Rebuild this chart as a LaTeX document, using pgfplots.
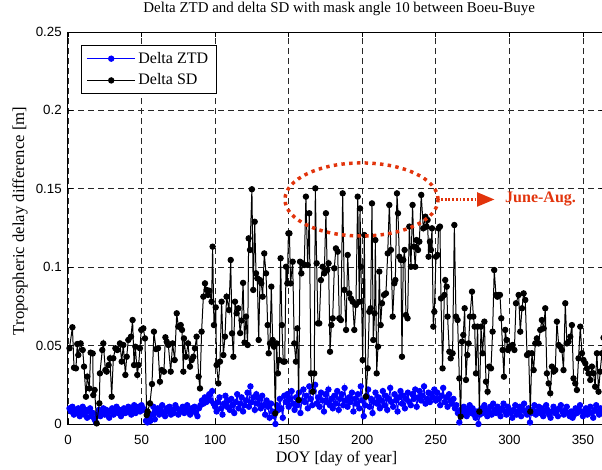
\documentclass[border=0pt]{standalone}
\usepackage{pgfplots}
\pgfplotsset{compat=1.18}
\usepackage{pgfplotstable}
\usepackage{fontspec}
\setmainfont{Liberation Serif}
\setsansfont{Liberation Sans}
\usetikzlibrary{arrows.meta}
\definecolor{annot}{RGB}{226,52,12}
\definecolor{ztdblue}{RGB}{0,0,255}

% Daily delta ZTD (one value per DOY, starting at day 1)
\pgfplotstableread{
dztd
0.010
0.008
0.011
0.006
0.009
0.007
0.010
0.005
0.008
0.011
0.006
0.009
0.004
0.008
0.010
0.005
0.007
0.003
0.001
0.006
0.009
0.005
0.008
0.010
0.006
0.009
0.007
0.004
0.008
0.010
0.006
0.008
0.011
0.007
0.009
0.005
0.008
0.010
0.007
0.009
0.011
0.008
0.006
0.010
0.012
0.007
0.009
0.011
0.008
0.012
0.010
0.009
0.002
0.001
0.004
0.002
0.006
0.011
0.003
0.008
0.010
0.006
0.009
0.012
0.007
0.005
0.010
0.008
0.011
0.006
0.009
0.007
0.012
0.010
0.006
0.009
0.008
0.011
0.007
0.010
0.012
0.008
0.006
0.010
0.009
0.011
0.007
0.005
0.010
0.012
0.015
0.013
0.017
0.014
0.016
0.019
0.015
0.021
0.013
0.011
0.008
0.014
0.017
0.010
0.006
0.013
0.018
0.011
0.015
0.009
0.016
0.012
0.007
0.014
0.019
0.010
0.013
0.017
0.008
0.012
0.015
0.020
0.011
0.024
0.014
0.017
0.009
0.019
0.013
0.016
0.010
0.018
0.012
0.006
0.015
0.011
0.004
0.013
0.008
0.005
0.000
0.012
0.009
0.016
0.010
0.004
0.018
0.014
0.019
0.011
0.016
0.021
0.013
0.009
0.017
0.012
0.020
0.007
0.015
0.022
0.014
0.018
0.010
0.024
0.016
0.012
0.021
0.025
0.013
0.017
0.011
0.020
0.015
0.008
0.019
0.014
0.022
0.012
0.016
0.010
0.018
0.013
0.021
0.009
0.016
0.019
0.012
0.023
0.015
0.011
0.017
0.014
0.020
0.008
0.016
0.013
0.019
0.010
0.024
0.015
0.005
0.012
0.018
0.022
0.011
0.016
0.007
0.014
0.020
0.013
0.017
0.010
0.015
0.021
0.012
0.018
0.009
0.016
0.023
0.014
0.011
0.019
0.015
0.008
0.017
0.021
0.013
0.018
0.010
0.016
0.020
0.014
0.012
0.019
0.016
0.022
0.011
0.017
0.021
0.015
0.018
0.024
0.013
0.016
0.020
0.014
0.019
0.017
0.022
0.015
0.020
0.016
0.012
0.018
0.023
0.014
0.017
0.011
0.019
0.015
0.013
0.016
0.010
0.012
0.007
0.001
0.009
0.006
0.011
0.008
0.005
0.009
0.012
0.007
0.010
0.006
0.004
0.008
0.000
0.006
0.010
0.007
0.012
0.009
0.005
0.008
0.011
0.006
0.013
0.009
0.007
0.011
0.008
0.005
0.010
0.013
0.008
0.006
0.011
0.009
0.007
0.004
0.009
0.012
0.006
0.008
0.011
0.005
0.009
0.013
0.008
0.006
0.010
0.001
0.007
0.009
0.012
0.006
0.008
0.011
0.007
0.010
0.005
0.008
0.012
0.009
0.006
0.004
0.008
0.011
0.007
0.009
0.005
0.010
0.012
0.008
0.006
0.009
0.011
0.007
0.005
0.008
0.004
0.006
0.010
0.007
0.009
0.012
0.008
0.005
0.007
0.010
0.006
0.008
0.011
0.007
0.004
0.009
0.012
0.008
0.006
0.010
0.007
0.009
0.005
}\ztdtable

% Delta SD against DOY
\pgfplotstableread{
doy dsd
1 0.0483
3 0.0617
4.1 0.0359
5.4 0.0355
6.3 0.0510
7 0.0440
8.6 0.0514
10 0.0472
10.9 0.0366
12.2 0.0174
13.1 0.0302
14.5 0.0227
15.4 0.0455
16.8 0.0450
17.2 0.0185
18.1 0.0217
19.5 0.0004
21.3 0.0132
21.7 0.0323
23.3 0.0472
24 0.0514
25.4 0.0344
26.3 0.0334
27.6 0.0376
28.5 0.0419
29.7 0.0174
30.8 0.0419
32.2 0.0483
33.5 0.0472
35.3 0.0514
36.5 0.0398
37.6 0.0504
39 0.0313
39.9 0.0429
41 0.0536
42.8 0.0557
43.9 0.0663
44.9 0.0376
45.8 0.0493
47.1 0.0313
48 0.0376
48.9 0.0483
49.8 0.0600
51.2 0.0610
52.3 0.0546
53.5 0.0057
54.1 0.0079
55.7 0.0132
57.1 0.0255
58.4 0.0589
59.8 0.0478
61.2 0.0483
62.5 0.0270
63.7 0.0344
65.2 0.0334
66.2 0.0553
67.1 0.0525
68.2 0.0504
69.8 0.0334
71.1 0.0514
72.5 0.0408
73.9 0.0706
75 0.0621
76.6 0.0631
77.5 0.0600
78.4 0.0334
78.8 0.0546
80.2 0.0429
81.6 0.0514
82.9 0.0366
84.1 0.0408
85.2 0.0429
86.3 0.0483
87.4 0.0557
88.8 0.0302
89.7 0.0227
90.8 0.0589
92 0.0812
93.1 0.0897
94.2 0.0855
95.1 0.0823
96 0.0850
97.6 0.0780
98.3 0.1131
99.2 0.0631
100.4 0.0744
101 0.0376
102.2 0.0259
103.3 0.0398
104.4 0.0780
105.6 0.0440
106.7 0.0557
107.8 0.0812
109.4 0.0727
110.6 0.1046
111.5 0.0578
112.4 0.0429
113.5 0.0780
114.6 0.0706
115.8 0.0738
117 0.0580
118 0.0660
119 0.0900
120 0.0520
121 0.0685
122.1 0.0504
122.8 0.1184
123.7 0.1110
125 0.1497
125.9 0.0855
126.9 0.1290
127.8 0.0961
128.7 0.0929
129.6 0.0536
130.5 0.0918
131.4 0.0897
132.3 0.0812
133.4 0.1088
134.6 0.0961
135.7 0.0631
136.4 0.0451
137.3 0.0514
138.2 0.0876
139.1 0.0536
140.0 0.0493
140.9 0.0068
141.8 0.0514
142.7 0.0323
143.6 0.0408
144.5 0.1057
145.4 0.0631
146.3 0.0398
147.3 0.0398
148.2 0.1003
149.1 0.0897
149.8 0.1216
150.5 0.1216
151.3 0.0897
152.7 0.1035
153.8 0.0514
154.9 0.0398
155.9 0.0610
156.8 0.0153
157.7 0.1035
158.6 0.0961
159.5 0.1025
160.6 0.1014
161.7 0.1450
162.9 0.1014
164.0 0.1344
165.1 0.0323
166.3 0.0206
167.4 0.0323
168.1 0.1503
169.0 0.1025
169.9 0.0642
170.8 0.0642
171.9 0.0918
173.1 0.1003
174.2 0.0961
175.3 0.1344
176.2 0.0982
177.1 0.1025
178.1 0.0461
179.0 0.0631
179.9 0.0674
181.0 0.0993
182.1 0.1120
183.3 0.1099
184.4 0.0674
185.5 0.0663
186.7 0.1471
187.8 0.0855
189.0 0.0600
190.1 0.1078
191.2 0.0833
192.3 0.0801
193.5 0.0780
194.6 0.0600
195.7 0.0759
196.9 0.1450
198.0 0.0780
198.5 0.1375
199.1 0.1003
200.3 0.0408
201.4 0.1205
202.5 0.0174
203.7 0.0355
204.8 0.0716
205.7 0.0738
206.6 0.1407
207.5 0.0536
208.4 0.0706
208.9 0.1173
209.8 0.0323
210.7 0.0493
211.6 0.0972
212.5 0.0631
213.4 0.0770
214.8 0.0823
216.1 0.0833
217.3 0.1088
218.4 0.1397
219.5 0.1110
220.7 0.0685
221.8 0.0897
222.5 0.0918
223.6 0.1471
224.3 0.1344
225.2 0.1067
226.3 0.1046
227.0 0.0429
227.9 0.1046
228.8 0.1110
229.7 0.0695
230.8 0.0674
232.0 0.1259
233.1 0.1003
234.2 0.1397
235.1 0.1131
236.0 0.1003
236.9 0.1173
237.9 0.1110
238.8 0.1163
240.1 0.1461
241.5 0.1248
242.9 0.1322
243.7 0.1259
244.4 0.1301
245.1 0.1067
246.0 0.1163
246.7 0.1110
247.4 0.1248
248.3 0.0621
249.0 0.0716
250.1 0.1067
251.2 0.1078
251.9 0.1248
252.8 0.1259
253.5 0.0801
254.6 0.0355
255.8 0.0823
256.4 0.0918
257.4 0.0876
258.0 0.0685
259.2 0.0461
260.1 0.0419
261.4 0.0451
262.6 0.1269
263.7 0.0685
264.8 0.0663
266.0 0.0291
266.9 0.0047
267.8 0.0525
268.7 0.0568
269.6 0.0738
270.5 0.0281
271.4 0.0440
272.3 0.0514
273.2 0.0685
274.6 0.0844
275.5 0.0685
276.4 0.0621
277.3 0.0323
278.4 0.0621
279.6 0.0079
280.7 0.0621
281.8 0.0451
283.0 0.0653
284.1 0.0270
285.2 0.0206
286.3 0.0366
287.5 0.0355
288.6 0.0589
289.7 0.0982
290.9 0.0823
291.8 0.0812
292.7 0.0823
293.6 0.0823
294.5 0.0674
295.4 0.0472
296.3 0.0302
297.2 0.0600
298.1 0.0536
299.0 0.0472
299.9 0.0493
301.1 0.0493
302.2 0.0504
303.4 0.0472
304.5 0.0770
306.3 0.0823
307.4 0.0589
308.6 0.0738
309.7 0.0833
310.8 0.0791
312.0 0.0440
313.1 0.0451
314.2 0.0079
315.3 0.0451
316.5 0.0344
317.6 0.0514
318.7 0.0546
319.9 0.0514
321.0 0.0600
322.1 0.0663
323.3 0.0610
324.4 0.0738
325.5 0.0323
326.7 0.0259
327.8 0.0196
328.9 0.0366
330.1 0.0334
331.2 0.0344
332.3 0.0653
333.5 0.0504
334.6 0.0493
335.7 0.0472
336.8 0.0344
338.0 0.0770
339.1 0.0514
340.2 0.0525
341.4 0.0557
342.5 0.0631
343.6 0.0291
344.8 0.0259
345.9 0.0217
347.0 0.0419
348.2 0.0621
349.3 0.0451
350.4 0.0408
351.6 0.0387
352.7 0.0355
353.8 0.0323
355.0 0.0281
356.1 0.0366
357.2 0.0323
358.3 0.0238
359.5 0.0451
360.6 0.0206
361.7 0.0334
362.9 0.0451
364.0 0.0550
}\sdtable

\begin{document}
\begin{tikzpicture}
\begin{axis}[
  at={(0,0)}, anchor=south west,
  scale only axis,
  width=402.75pt, height=294pt,
  xmin=0, xmax=365, ymin=0, ymax=0.25,
  xtick={0,50,...,350},
  ytick={0,0.05,0.1,0.15,0.2,0.25},
  tick align=inside,
  major tick length=4pt,
  tick style={black, line width=0.5pt},
  axis line style={black, line width=0.75pt},
  grid=major,
  major grid style={black!85, line width=0.5pt, dash pattern=on 4.5pt off 3pt},
  /pgf/number format/assume math mode=true,
  yticklabel style={/pgf/number format/fixed, font=\sffamily\fontsize{10}{12}\selectfont,
    anchor=east, inner sep=0pt, xshift=-4.5pt},
  xticklabel style={font=\sffamily\fontsize{10}{12}\selectfont,
    anchor=base, inner sep=0pt, yshift=-15pt},
  title={Delta ZTD and delta SD with mask angle 10 between Boeu-Buye},
  title style={font=\fontsize{11.2}{13}\selectfont, at={(axis description cs:0.505,1)}, anchor=base, yshift=9pt},
  xlabel={DOY [day of year]},
  xlabel style={font=\fontsize{12}{14}\selectfont, at={(axis description cs:0.5,0)}, anchor=base, yshift=-29pt},
  ylabel={Tropospheric delay difference [m]},
  ylabel style={font=\fontsize{12.5}{14}\selectfont, at={(axis description cs:-0.0894,0.518)}, anchor=center},
  legend style={at={(axis description cs:0.024,0.967)}, anchor=north west,
    draw=black, line width=0.75pt, fill=white,
    font=\fontsize{12}{14}\selectfont, inner xsep=4pt, inner ysep=3pt,
    row sep=2.5pt},
  legend cell align=left,
  legend image code/.code={%
    \draw[#1, line width=0.75pt, mark repeat=2, mark phase=2]
      plot coordinates {(0pt,0pt) (18pt,0pt) (36pt,0pt)};},
  clip mode=individual,
]
\addplot[ztdblue, line width=0.75pt, mark=*, mark size=2pt, mark options={solid, fill=ztdblue}]
  table[x expr=\coordindex+1, y=dztd] {\ztdtable};
\addlegendentry{Delta ZTD}
\addplot[black, line width=0.75pt, mark=*, mark size=2pt, mark options={solid, fill=black}]
  table[x=doy, y=dsd] {\sdtable};
\addlegendentry{Delta SD}

% summer highlight
\draw[annot, line width=2.6pt, dash pattern=on 2.6pt off 3.2pt]
  (axis cs:199.5,0.1432) ellipse [x radius=57.4pt, y radius=27.4pt];
\draw[annot, line width=1.8pt, dash pattern=on 1.4pt off 1.4pt]
  (axis cs:253.5,0.1432) -- (axis cs:279,0.1432);
\fill[annot] (axis cs:278,0.1432) ++(0pt,5.5pt) -- ++(13pt,-5.5pt) -- ++(-13pt,-5.5pt) -- cycle;
\node[annot, font=\bfseries\fontsize{12}{14}\selectfont, anchor=west, inner sep=0pt]
  at (axis cs:297,0.1432) {June-Aug.};
\end{axis}
\pgfresetboundingbox
\path[use as bounding box] (-51pt,-33.75pt) rectangle (400.5pt,318pt);
\end{tikzpicture}
\end{document}
